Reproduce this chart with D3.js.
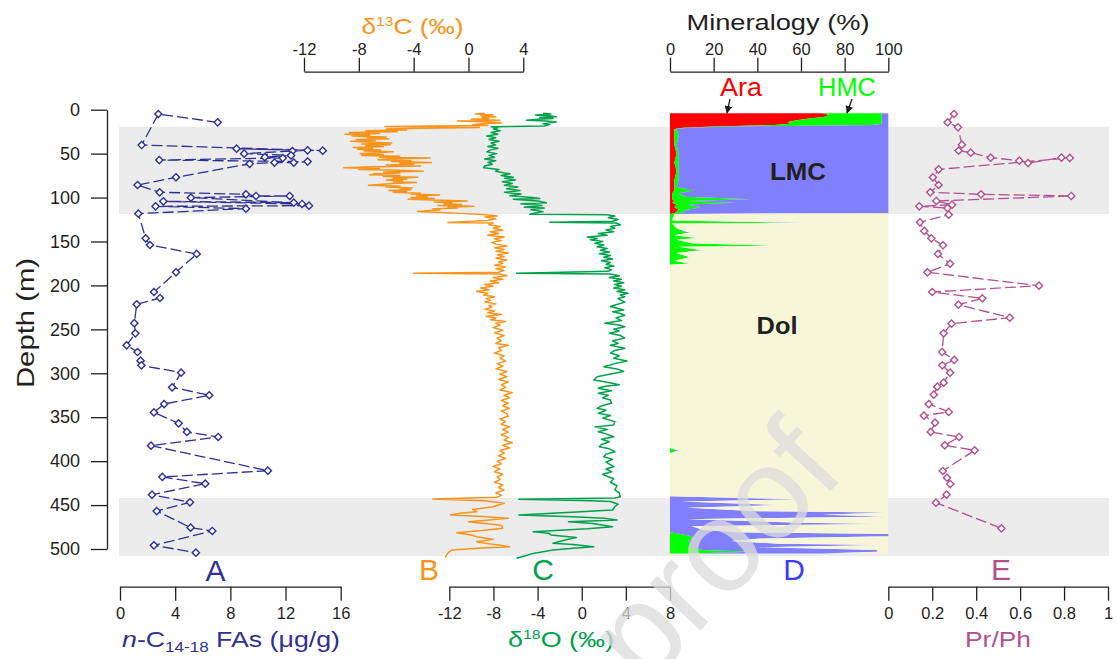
<!DOCTYPE html>
<meta charset="utf-8">
<style type="text/css">
body {
  margin: 0;
  background: #fff;
  font-family: Arial, "Liberation Sans", sans-serif;
}
.axis path,
.axis line {
  fill: none;
  stroke: #231f20;
  stroke-width: 1.3px;
}
.axis text {
  font-family: Arial, "Liberation Sans", sans-serif;
  font-size: 16.5px;
  fill: #231f20;
}
.label {
  font-family: Arial, "Liberation Sans", sans-serif;
}
</style>
<body>
<script src="https://cdn.jsdelivr.net/npm/d3@7"></script>
<script>
// ---- data (depth in m, value) ----
// A: n-C14-18 fatty acids (ug/g), in plotted path order
var fasA = [[14.4,7.08],[4.9,2.78],[40.2,1.57],[46.6,14.7],[44.4,8.45],[46.2,13.6],[47,12.5],[50,9.0],[52,12.4],[54,10.5],
  [55,11.8],[57.3,2.85],[59.1,13.6],[60.2,12.6],[60.2,11.2],[61.6,9.4],[77,4.06],[85.7,1.27],[94,2.88],[96.3,9.13],
  [98.2,9.86],[98.2,12.3],[100.1,5.14],[105.8,12.6],[104.3,3.14],[107.3,13.2],[109.2,13.7],[110,2.58],[112.6,9.13],[118.3,1.33],
  [146.4,1.86],[154,2.17],[164.2,5.56],[185.1,4.06],[207.5,2.46],[214.3,2.9],[221.5,1.21],[243,1.04],[254.5,1.11],[268.2,0.48],
  [275.8,1.27],[285.6,1.49],[291,1.55],[299.3,4.43],[316,3.78],[325,6.47],[335,3.2],[344.5,2.46],[357,4.25],[366.8,4.85],
  [372.5,7.12],[382.4,2.25],[410.9,10.72],[418,3.07],[425.7,6.18],[438.2,2.32],[446.9,5.07],[456.8,2.66],[475.7,5.12],[479.5,6.69],
  [495.8,2.46],[504.2,5.5]];

// B: d13C (permil)
var d13C = [[4,1.2],[5,0.5],[6,1.8],[7,0.9],[8,2.0],[9,1.0],[10,1.5],[11,0.2],[12,2.3],[13,-0.8],[14,1.6],[15,2.4],[16,1.0],[17,0.3],[18,1.4],
  [19,-6.1],[19.6,-2.0],[20.3,0.8],[21,-3.5],[22,-6.0],[23,-4.5],[24,-7.5],[25,-5.2],[26,-8.7],[27,-6.5],[28,-9.0],[29,-7.2],[30,-8.5],
  [31,-6.0],[32,-7.4],[33,-5.8],[34,-8.2],[35,-6.8],[36,-8.6],[37,-7.0],[38,-5.6],[39,-7.8],[40,-5.7],[41,-7.5],[42,-6.2],[43,-8.4],
  [44,-7.0],[45,-8.1],[46,-6.4],[47,-7.6],[48,-5.5],[49,-6.8],[50,-7.9],[51,-6.2],[52,-7.8],[53,-5.0],[54,-6.5],[55,-2.8],[56,-5.8],
  [57,-6.6],[58,-4.2],[59,-5.6],[60,-2.7],[61,-5.0],[62,-4.0],[63,-6.0],[64,-3.5],[65,-7.0],[66,-9.1],[67,-6.5],[68,-8.0],[69,-5.0],
  [70,-3.3],[71,-6.2],[72,-5.0],[73,-6.8],[74,-7.2],[75,-5.0],[76,-6.2],[77,-3.7],[78,-5.5],[79,-4.5],[80,-6.0],[81,-4.8],[82,-5.5],
  [83,-3.8],[84,-5.5],[85,-6.5],[86,-7.3],[87,-5.0],[88,-6.0],[89,-4.1],[90,-5.0],[91,-4.2],[92,-5.8],[93,-4.5],[94,-5.5],[95,-3.5],
  [96,-4.2],[97,-2.1],[98,-3.8],[99,-3.0],[100,-4.2],[101,-2.5],[102,-4.4],[103,-2.0],[104,-0.1],[105,-2.5],[106,-1.2],[107,-1.8],
  [108,-0.5],[109,-2.2],[110,0.4],[111,-1.5],[112,-0.8],[113,-2.6],[114,-2.1],[115,-3.0],[116,-3.7],[117,-2.0],[118,-0.6],[119,0.8],
  [120,1.6],[121,2.1],[122,1.2],[124,2.0],[126,1.4],[128.3,-1.5],[129,1.8],[131,1.5],[133,2.3],[135,1.8],[137,2.5],[139,1.6],[141,2.2],
  [143,1.4],[145,2.6],[147,1.9],[149,2.4],[151,1.7],[153,2.0],[155,2.8],[157,1.9],[159,2.6],[161,2.0],[163,2.9],[165,2.1],[167,2.6],
  [169,2.0],[171,2.8],[173,2.2],[175,2.5],[177,1.9],[179,2.7],[181,2.0],[183,2.6],[185,2.2],[186.2,-4.0],[187,2.3],[189,2.8],[191,1.8],
  [193,2.5],[195,1.6],[197,2.2],[199,1.2],[201,1.8],[203,0.9],[205,1.5],[207,0.6],[209,1.4],[211,1.1],[213,1.9],[215,1.3],[217,1.6],
  [219,1.2],[221,2.0],[223,1.5],[225,1.7],[227,1.2],[229,1.9],[231,1.4],[233,2.4],[235,1.3],[237,2.0],[239,1.6],[241,2.7],[243,2.0],
  [245,2.3],[248,1.8],[251,2.5],[254,1.9],[257,2.6],[260,2.1],[263,2.4],[266,2.0],[268,2.9],[271,2.2],[274,2.4],[277,1.9],[280,2.6],
  [283,2.3],[286,2.7],[289,2.1],[292,2.5],[295,2.0],[298,2.8],[301,2.3],[304,2.8],[307,2.2],[310,2.9],[313,2.4],[316,2.7],[319,2.3],
  [322,3.2],[325,2.6],[328,3.0],[331,2.4],[334,2.9],[337,2.5],[340,3.0],[343,2.4],[346,2.8],[349,2.9],[352,2.3],[355,2.7],[358,2.4],
  [361,3.0],[364,2.5],[367,2.9],[370,2.4],[373,2.9],[376,2.6],[379,3.2],[382,2.5],[385,3.0],[388,2.3],[391,2.6],[394,2.2],[397,2.7],
  [400,2.1],[403,2.4],[406,1.8],[409,2.3],[412,1.9],[415,2.5],[418,2.1],[421,2.3],[424,1.9],[427,2.5],[430,2.2],[433,2.6],[436,2.0],
  [439,2.4],[441,2.1],[443,-2.6],[445,1.2],[448,2.6],[452,1.8],[455,0.3],[457.5,0.6],[459,-0.5],[461.3,-1.3],[463,1.0],[465,2.9],
  [467,1.5],[469,0.0],[471,1.2],[473,2.4],[476.5,2.5],[479,1.0],[481.4,-0.85],[484,0.2],[486,0.6],[489,1.8],[491.7,0.6],[494,1.5],
  [495.5,2.2],[497.4,3.0],[499,1.0],[501.2,-1.2],[503,-1.4],[506.8,-1.6],[510,-1.7]];

// C: d18O (permil)
var d18O = [[4,-3.5],[5,-2.8],[6,-4.2],[7,-3.0],[8,-2.3],[9,-3.8],[10,-2.6],[11,-4.0],[12,-5.0],[13,-3.2],[14,-2.3],[15,-2.9],[16,-3.5],
  [17,-2.9],[18.5,-3.4],[19.5,-8.2],[20.5,-7.6],[22,-8.0],[24,-7.4],[26,-8.2],[28,-7.6],[30,-8.6],[32,-7.8],[34,-8.4],[36,-7.5],
  [38,-8.2],[40,-7.8],[42,-8.5],[44,-7.6],[46,-8.3],[48,-8.6],[50,-7.7],[52,-8.4],[54,-7.9],[56,-8.8],[58,-7.8],[60,-8.5],[62,-8.1],
  [64,-8.8],[66,-8.9],[68,-7.5],[70,-7.8],[72,-7.0],[73,-6.5],[75,-7.3],[77,-6.2],[78,-7.0],[80,-6.0],[82,-7.2],[84,-6.3],[86,-7.0],
  [88,-5.8],[90,-6.8],[92,-5.6],[94,-7.0],[96,-5.5],[98,-6.5],[100,-4.5],[101,-3.8],[102,-6.2],[104,-4.0],[106,-3.2],[107,-5.5],
  [109,-3.6],[111,-5.2],[112,-3.4],[114,-4.6],[116,-3.5],[117.5,-4.2],[119,-4.7],[119.5,2.3],[121,3.0],[123,2.4],[125,3.3],[127,2.8],
  [128.2,-2.9],[129,3.1],[131,3.5],[133,2.6],[135,3.0],[137,2.2],[139,2.9],[141,1.5],[143,2.3],[145,0.5],[146.5,1.4],[148,0.8],
  [150,1.9],[152,1.2],[154,2.0],[156,1.4],[158,2.3],[160,1.7],[162,2.5],[164,1.6],[166,2.6],[168,2.0],[170,2.8],[172,1.8],[174,2.6],
  [176,2.2],[178,2.9],[180,2.1],[182,2.7],[184,2.4],[186.2,-5.9],[187,2.6],[189,3.4],[191,2.5],[193,3.6],[195,2.9],[197,3.8],[199,3.0],
  [201,3.6],[203,2.9],[205,3.9],[207,3.2],[209,4.2],[211,3.5],[213,3.9],[215,3.3],[217,3.6],[219,3.9],[222,3.1],[224,2.6],[226,3.2],
  [228,3.8],[230,2.8],[232,3.5],[234,3.9],[237,3.1],[240,3.6],[243,2.1],[245,3.4],[247,3.9],[250,2.9],[252,3.4],[254.5,2.5],[257,3.5],
  [260,3.9],[263,2.8],[266,3.3],[268,2.6],[271.6,3.9],[274,3.0],[277,2.6],[280,3.4],[283,2.9],[286,4.1],[289,3.0],[292.5,2.0],[295,3.2],
  [298,3.8],[301,2.5],[304,1.4],[307.6,1.1],[310,2.2],[313,3.4],[315,2.0],[317,1.5],[320,2.7],[322.8,1.5],[325,2.4],[328,1.9],
  [330.4,2.6],[334.2,2.7],[337,1.8],[339.9,1.4],[342,2.2],[345.6,1.5],[348,2.6],[351,1.9],[355,3.0],[358.9,2.9],[361,1.2],[364,2.3],
  [366.5,1.5],[369,2.2],[372.2,2.9],[375,1.8],[378,2.5],[381,1.8],[383.6,1.6],[386,2.5],[389.3,3.0],[392,2.2],[395,2.0],[398,2.8],
  [401,2.2],[404,2.6],[406.3,2.9],[409,2.2],[412,2.7],[415,1.9],[417.7,2.4],[420,2.9],[424,2.6],[428,3.2],[432.8,3.0],[436,3.4],
  [440.5,3.5],[442,3.0],[443.5,-5.7],[445,1.0],[446,2.6],[449,3.3],[451.8,3.0],[455.6,2.8],[458,-0.5],[461.3,-5.7],[463.2,-0.8],
  [465,2.0],[467,3.2],[469,-1.2],[471,1.0],[474.6,2.8],[477,0.5],[480.3,-4.4],[482,-3.0],[484,-2.8],[487,-0.5],[489.8,-1.5],
  [493.5,-2.6],[495,-0.8],[497.4,1.1],[499,-0.5],[501.2,-2.6],[505,-4.4],[508,-5.2],[510.6,-5.9]];

// D: mineralogy (%) rows: depth, Ara, HMC, LMC, Dol
var mineralKeys = ["ara", "hmc", "lmc", "dol"];
var mineralRows = [[4,70,27,3,0],[6,73,24,3,0],[8,71,26,3,0],[10,64,33,3,0],[12,58,39,3,0],[14,54,43,3,0],[16,55,42,3,0],
  [17.5,48,45,7,0],[19,20,10,70,0],[20.5,6,2,92,0],[22,2,1,97,0],[30,2,2,96,0],[40,2,1,97,0],[50,3,1,96,0],[60,2,2,96,0],
  [70,3,1,96,0],[80,2,2,96,0],[88,2,1,97,0],[92,2,9,89,0],[95,1,3,96,0],[99,1,6,93,0],[102,1,36,63,0],[104,2,6,92,0],
  [106,1,29,70,0],[108,3,5,92,0],[111,2,12,86,0],[114,4,4,92,0],[117.8,2,3,95,0],[118.6,0,2,0,98],[126,0,1,0,99],
  [128.6,0,55,8,37],[129.6,0,1,0,99],[135,0,3,0,97],[140,0,8,1,91],[143,0,2,0,98],[146,0,12,1,87],[148,0,3,0,97],
  [152,0,10,0,90],[155,0,48,0,52],[156,0,4,0,96],[160,0,14,1,85],[163,0,3,0,97],[168,0,9,0,91],[172,0,2,0,98],[175,0,9,0,91],
  [176.5,0,0,0,100],[385,0,0,0,100],[388,0,3,1,96],[391,0,0,0,100],[440,0,0,0,100],[443.5,0,0,60,40],[446,0,0,5,95],
  [450,0,0,50,50],[453,0,0,8,92],[457,0,0,40,60],[458.5,0,0,99,1],[461,0,0,70,30],[463,0,0,99,1],[466,0,0,8,92],
  [470,0,0,60,40],[471.5,0,0,97,3],[474,0,0,10,90],[478,0,0,15,85],[481,0,0,30,70],[483,0,5,95,0],[485.5,0,10,90,0],
  [488,0,11,30,59],[491,0,8,20,72],[494,0,10,40,50],[495.5,0,9,88,3],[498,0,10,30,60],[501,0,15,80,5],[503,0,38,57,5],
  [505,0,10,60,30]];

// E: Pr/Ph
var prPh = [[4.9,0.299],[14.4,0.27],[20,0.317],[39.8,0.335],[46.6,0.32],[48.9,0.375],[54.6,0.466],[58,0.596],[60.7,0.636],
  [54.6,0.788],[54.9,0.826],[67.9,0.229],[77,0.203],[85.7,0.229],[94,0.191],[96.3,0.422],[98.2,0.833],[103.9,0.219],[108.1,0.29],
  [110,0.141],[111.9,0.269],[119.5,0.275],[128.2,0.144],[138,0.164],[146.4,0.196],[154.3,0.249],[164.2,0.226],[175.2,0.281],
  [185.1,0.178],[200.3,0.686],[207.5,0.2],[214.7,0.428],[221.9,0.319],[236.7,0.553],[243.5,0.288],[254.5,0.252],[275.8,0.245],
  [284.8,0.3],[291,0.246],[299.3,0.281],[310.7,0.252],[315.2,0.223],[324.4,0.207],[335,0.184],[344,0.275],[348.2,0.162],
  [356.2,0.213],[366.8,0.193],[372.5,0.322],[382,0.257],[387.7,0.393],[411.2,0.248],[418.8,0.267],[426,0.282],[438.2,0.265],
  [447.3,0.217],[476.5,0.515]];

// shaded depth intervals
var bands = [[19.3, 118.7], [442, 508]];

var ink = "#231f20";
var colA = "#2e3192", colB = "#f7941d", colC = "#00a14b", colD = "#3c3cff", colE = "#b2508e";
var mineralColors = { ara: "#ff0000", hmc: "#00ff00", lmc: "#8080ff", dol: "#f8f6d9" };

var svg = d3.select("body").append("svg")
  .attr("width", 1117)
  .attr("height", 659);

var y = d3.scaleLinear().domain([0, 500]).range([109.7, 549]);
var xA = d3.scaleLinear().domain([0, 16]).range([120, 340.7]);
var xB = d3.scaleLinear().domain([-12, 4]).range([304, 523.3]);
var xC = d3.scaleLinear().domain([-12, 8]).range([449.3, 670]);
var xD = d3.scaleLinear().domain([0, 100]).range([670, 888.3]);
var xE = d3.scaleLinear().domain([0, 1]).range([888.3, 1108]);

// grey bands
svg.selectAll(".band")
  .data(bands)
  .enter().append("rect")
    .attr("class", "band")
    .attr("x", 119)
    .attr("width", 990)
    .attr("y", function(d) { return y(d[0]); })
    .attr("height", function(d) { return y(d[1]) - y(d[0]); })
    .attr("fill", "#ececec");

// ---- axes ----
function axis(gen, scale, pos, majors, minors, size, pad, fmt) {
  var g = svg.append("g").attr("class", "axis").attr("transform", pos);
  g.call(gen(scale).tickValues(minors).tickSize(size / 2).tickSizeOuter(0).tickFormat(""));
  g.selectAll(".domain").remove();
  g.call(gen(scale).tickValues(majors).tickSize(size).tickSizeOuter(0).tickPadding(pad).tickFormat(fmt));
  return g;
}
var plain = function(d) { return String(d); };

var yAx = axis(d3.axisLeft, y, "translate(107,0)", d3.range(0, 501, 50), d3.range(25, 500, 50), 16, 11, plain);
yAx.selectAll("text").style("font-size", "18px");

axis(d3.axisBottom, xA, "translate(0,586.7)", [0, 4, 8, 12, 16], [2, 6, 10, 14], 14, 7, plain);
axis(d3.axisTop, xB, "translate(0,71.7)", [-12, -8, -4, 0, 4], [-10, -6, -2, 2], 14, 3, plain);
axis(d3.axisBottom, xC, "translate(0,586.7)", [-12, -8, -4, 0, 4, 8], [-10, -6, -2, 2, 6], 14, 7, plain);
axis(d3.axisTop, xD, "translate(0,71.7)", [0, 20, 40, 60, 80, 100], [10, 30, 50, 70, 90], 14, 3, plain);
axis(d3.axisBottom, xE, "translate(0,586.7)", [0, 0.2, 0.4, 0.6, 0.8, 1], [0.1, 0.3, 0.5, 0.7, 0.9], 14, 7, plain);

// ---- D: stacked mineralogy ----
var mineralData = mineralRows.map(function(r) {
  return { depth: r[0], ara: r[1], hmc: r[2], lmc: r[3], dol: r[4] };
});
var stack = d3.stack().keys(mineralKeys);
var area = d3.area()
  .y(function(d) { return y(d.data.depth); })
  .x0(function(d) { return xD(d[0]); })
  .x1(function(d) { return xD(d[1]); });

svg.append("g").selectAll("path")
  .data(stack(mineralData))
  .enter().append("path")
    .attr("d", area)
    .attr("fill", function(d) { return mineralColors[d.key]; });

// ---- B and C curves ----
function curve(data, xs, color) {
  svg.append("path")
    .datum(data)
    .attr("fill", "none")
    .attr("stroke", color)
    .attr("stroke-width", 1.5)
    .attr("stroke-linejoin", "round")
    .attr("d", d3.line()
      .x(function(d) { return xs(d[1]); })
      .y(function(d) { return y(d[0]); }));
}
curve(d13C, xB, colB);
curve(d18O, xC, colC);

// ---- A and E dashed lines with open diamonds ----
function dotted(data, xs, color) {
  svg.append("path")
    .datum(data)
    .attr("fill", "none")
    .attr("stroke", color)
    .attr("stroke-width", 1.3)
    .attr("stroke-dasharray", "11,4")
    .attr("d", d3.line()
      .x(function(d) { return xs(d[1]); })
      .y(function(d) { return y(d[0]); }));

  svg.append("g").selectAll("path")
    .data(data)
    .enter().append("path")
      .attr("d", d3.symbol().type(d3.symbolSquare).size(26))
      .attr("transform", function(d) {
        return "translate(" + xs(d[1]) + "," + y(d[0]) + ") rotate(45)";
      })
      .attr("fill", "#fff")
      .attr("stroke", color)
      .attr("stroke-width", 1.4);
}
dotted(fasA, xA, colA);
dotted(prPh, xE, colE);

// ---- texts ----
// the figure's lettering is set wide, so titles get a fitted length
function label(x, yy, size, color, txt, len, bold) {
  var t = svg.append("text")
    .attr("class", "label")
    .attr("x", x)
    .attr("y", yy)
    .attr("text-anchor", "middle")
    .style("font-size", size + "px")
    .attr("fill", color)
    .text(txt);
  if (len) t.attr("textLength", len).attr("lengthAdjust", "spacingAndGlyphs");
  if (bold) t.style("font-weight", "bold");
  return t;
}

svg.append("text")
  .attr("class", "label")
  .attr("transform", "translate(34,323) rotate(-90)")
  .attr("text-anchor", "middle")
  .style("font-size", "23px")
  .attr("fill", ink)
  .attr("textLength", 130)
  .attr("lengthAdjust", "spacingAndGlyphs")
  .text("Depth (m)");

// A title
var tA = svg.append("text").attr("class", "label").attr("x", 231).attr("y", 647)
  .attr("text-anchor", "middle").style("font-size", "22px").attr("fill", colA)
  .attr("textLength", 218).attr("lengthAdjust", "spacingAndGlyphs");
tA.append("tspan").style("font-style", "italic").text("n");
tA.append("tspan").text("-C");
tA.append("tspan").attr("dy", 5).style("font-size", "14px").text("14-18");
tA.append("tspan").attr("dy", -5).text(" FAs (\u03bcg/g)");

// B title
var tB = svg.append("text").attr("class", "label").attr("x", 412.5).attr("y", 33.5)
  .attr("text-anchor", "middle").style("font-size", "22px").attr("fill", colB)
  .attr("textLength", 102).attr("lengthAdjust", "spacingAndGlyphs");
tB.append("tspan").text("\u03b4");
tB.append("tspan").attr("dy", -8).style("font-size", "13px").text("13");
tB.append("tspan").attr("dy", 8).text("C (\u2030)");

// C title
var tC = svg.append("text").attr("class", "label").attr("x", 561).attr("y", 647)
  .attr("text-anchor", "middle").style("font-size", "22px").attr("fill", colC)
  .attr("textLength", 106).attr("lengthAdjust", "spacingAndGlyphs");
tC.append("tspan").text("\u03b4");
tC.append("tspan").attr("dy", -8).style("font-size", "13px").text("18");
tC.append("tspan").attr("dy", 8).text("O (\u2030)");

label(778, 29.5, 22, ink, "Mineralogy (%)", 183);
label(998, 647, 22, colE, "Pr/Ph", 66);

label(215.5, 581, 30, colA, "A");
label(429, 580, 30, colB, "B");
label(543, 580, 30, colC, "C");
label(794, 580, 30, colD, "D");
label(1001, 580, 30, colE, "E");

label(741, 96, 25, "#ff0000", "Ara", 42);
label(847, 96, 25, "#00ff00", "HMC", 58);
label(798, 180, 23, ink, "LMC", 56, true);
label(777, 334, 24, ink, "Dol", 41, true);

// arrows from mineral names
svg.append("defs").append("marker")
  .attr("id", "arr")
  .attr("viewBox", "0 0 10 10")
  .attr("refX", 9).attr("refY", 5)
  .attr("markerWidth", 6).attr("markerHeight", 6)
  .attr("orient", "auto")
  .append("path")
    .attr("d", "M0,0 L10,5 L0,10 z")
    .attr("fill", ink);

svg.append("line").attr("x1", 730).attr("y1", 99).attr("x2", 727).attr("y2", 113)
  .attr("stroke", ink).attr("stroke-width", 1.3).attr("marker-end", "url(#arr)");
svg.append("line").attr("x1", 852).attr("y1", 99).attr("x2", 847).attr("y2", 113)
  .attr("stroke", ink).attr("stroke-width", 1.3).attr("marker-end", "url(#arr)");

// watermark
svg.append("text")
  .attr("class", "label")
  .attr("transform", "translate(645,690) rotate(-47)")
  .style("font-size", "130px")
  .attr("fill", "#dcdcdc")
  .attr("opacity", 0.75)
  .text("proof");
</script>
</body>
